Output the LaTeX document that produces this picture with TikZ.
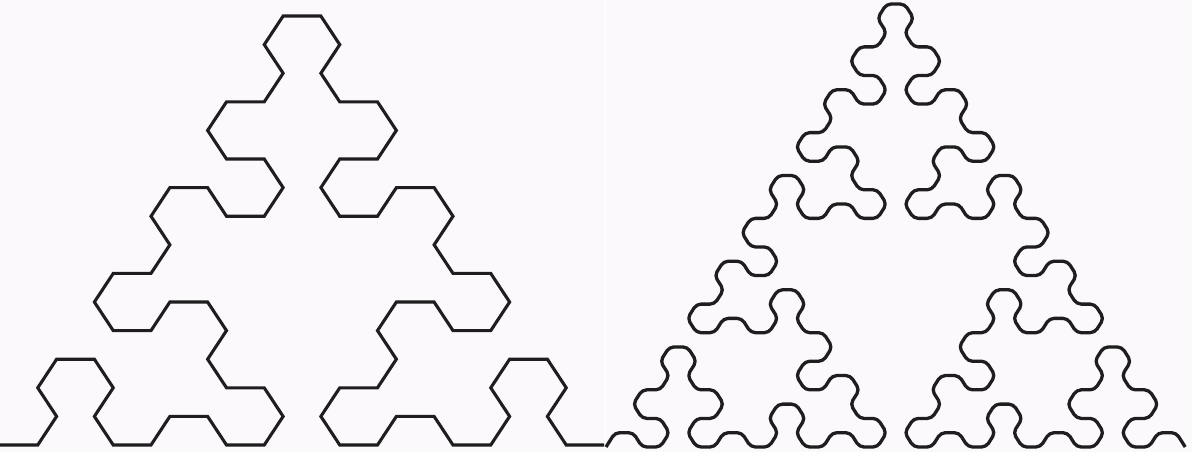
\documentclass[tikz,border=0pt]{standalone}
\definecolor{bgpink}{RGB}{252,249,252}
\definecolor{curveink}{RGB}{30,30,30}
% recursive Sierpinski arrowhead curve: #1 order, #2 direction, #3 bulge sign
\makeatletter
\def\ahc#1#2#3{%
  \ifnum#1=0
    \xdef\ahpath{\ahpath -- ++(#2:1)}%
  \else
    \edef\ah@tmp{%
      \noexpand\ahc{\the\numexpr#1-1\relax}{\the\numexpr#2+60*#3\relax}{\the\numexpr-#3\relax}%
      \noexpand\ahc{\the\numexpr#1-1\relax}{#2}{#3}%
      \noexpand\ahc{\the\numexpr#1-1\relax}{\the\numexpr#2-60*#3\relax}{\the\numexpr-#3\relax}}%
    \expandafter\ah@tmp
  \fi}
\makeatother
\tikzset{
  curveL/.style={draw=curveink, line width=3.1pt, line join=miter},
  curveR/.style={draw=curveink, line width=3.3pt, line join=round, rounded corners=4.5pt},
}
\begin{document}
\begin{tikzpicture}[x=1pt,y=1pt]
  \fill[bgpink] (0,0) rectangle (1192,452);
  \useasboundingbox (0,0) rectangle (1192,452);
  \fill[white] (604.5,0) rectangle (606,452);
  % left: order 4
  \gdef\ahpath{}\ahc{4}{0}{1}
  \begin{scope}[x=37.75pt,y=33.02pt,shift={(0pt,7pt)}]
    \coordinate (Lstart) at (0,0);
    \edef\drawL{\noexpand\draw[curveL] (Lstart) \ahpath;}
    \drawL
  \end{scope}
  % right: order 5
  \gdef\ahpath{}\ahc{5}{0}{1}
  \begin{scope}[x=18.1pt,y=16.5pt,shift={(606pt,5pt)}]
    \coordinate (Rstart) at (0,0);
    \edef\drawR{\noexpand\draw[curveR] (Rstart) \ahpath;}
    \drawR
  \end{scope}
\end{tikzpicture}
\end{document}
